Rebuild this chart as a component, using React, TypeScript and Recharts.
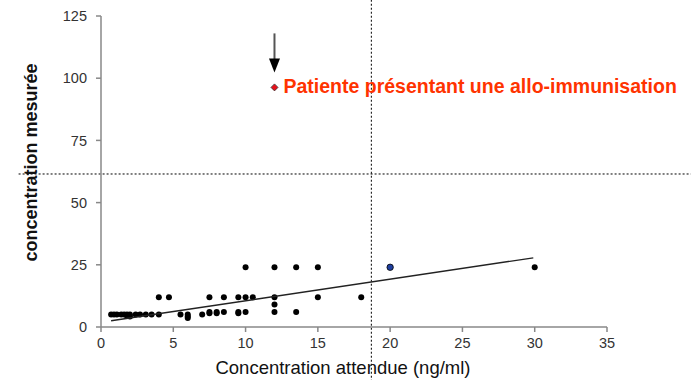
import { ScatterChart, Scatter, XAxis, YAxis, ReferenceLine } from 'recharts';

document.body.style.margin = '0';

// axis ticks
const xTicks = [0, 5, 10, 15, 20, 25, 30, 35];
const yTicks = [0, 25, 50, 75, 100, 125];

// expected (x) vs measured (y) concentrations
const measured = [
  { x: 0.7, y: 5 }, { x: 0.9, y: 5 }, { x: 1.1, y: 5 }, { x: 1.4, y: 5 },
  { x: 1.6, y: 5 }, { x: 1.8, y: 5 }, { x: 2, y: 5 }, { x: 2.4, y: 5 },
  { x: 2.7, y: 5 }, { x: 3.1, y: 5 }, { x: 3.5, y: 5 }, { x: 4, y: 5 },
  { x: 2, y: 4.2 }, { x: 1.8, y: 4.5 },
  { x: 4, y: 12 }, { x: 4.7, y: 12 },
  { x: 5.5, y: 5 }, { x: 6, y: 5 }, { x: 6, y: 4.2 }, { x: 6, y: 3.6 },
  { x: 7, y: 5 }, { x: 7.5, y: 5.5 }, { x: 7.5, y: 6 }, { x: 8, y: 5.5 },
  { x: 8, y: 6 }, { x: 8.5, y: 6 }, { x: 9.5, y: 5.5 }, { x: 9.5, y: 6 },
  { x: 10, y: 6 }, { x: 12, y: 6 }, { x: 13.5, y: 6 },
  { x: 7.5, y: 12 }, { x: 8.5, y: 12 }, { x: 9.5, y: 12 }, { x: 10, y: 12 },
  { x: 10.5, y: 12 }, { x: 12, y: 12 }, { x: 15, y: 12 }, { x: 18, y: 12 },
  { x: 12, y: 9 },
  { x: 10, y: 24 }, { x: 12, y: 24 }, { x: 13.5, y: 24 }, { x: 15, y: 24 },
  { x: 30, y: 24 },
];
const highlighted = [{ x: 20, y: 24 }];
const alloPatient = [{ x: 12, y: 96.3 }];
const trendLine = [
  { x: 0.7, y: 2.5 },
  { x: 29.9, y: 27.8 },
];

// threshold lines (drawn past the plot edges)
const xThreshold = 18.7;
const yThreshold = 61.5;

const FONT = '"Liberation Sans", Arial, sans-serif';

const Dot = (props: any) => <circle cx={props.cx} cy={props.cy} r={3} fill="#000" />;

const BlueDot = (props: any) => (
  <circle cx={props.cx} cy={props.cy} r={3.2} fill="#1f3f9f" stroke="#000" strokeWidth={0.8} />
);

const AlloPoint = (props: any) => {
  const { cx, cy } = props;
  return (
    <g>
      <line x1={cx} y1={cy - 54} x2={cx} y2={cy - 28} stroke="#555" strokeWidth={2} />
      <polygon points={`${cx - 5.5},${cy - 29} ${cx + 5.5},${cy - 29} ${cx},${cy - 15}`} fill="#000" />
      <polygon
        points={`${cx},${cy - 3.5} ${cx + 3.5},${cy} ${cx},${cy + 3.5} ${cx - 3.5},${cy}`}
        fill="#e8101a"
        stroke="#333"
        strokeWidth={0.8}
      />
      <text x={cx + 9} y={cy + 6} fill="#ff3300" fontSize={19.5} fontWeight="bold" fontFamily={FONT}>
        Patiente présentant une allo-immunisation
      </text>
    </g>
  );
};

const NoDot = () => <g />;

const XLabel = (props: any) => {
  const vb = props.viewBox;
  return (
    <text x={vb.x + vb.width / 2 - 11} y={vb.y + 47} textAnchor="middle" fontSize={18.5} fill="#111" fontFamily={FONT}>
      Concentration attendue (ng/ml)
    </text>
  );
};

const YLabel = (props: any) => {
  const vb = props.viewBox;
  const cx = 31;
  const cy = vb.y + vb.height / 2 - 9;
  return (
    <text
      x={cx}
      y={cy}
      transform={`rotate(-90, ${cx}, ${cy})`}
      textAnchor="middle"
      dominantBaseline="central"
      fontSize={18}
      fontWeight="bold"
      fill="#111"
      fontFamily={FONT}
    >
      concentration mesurée
    </text>
  );
};

export default function App() {
  const tick = { fill: '#333', fontSize: 14.5, fontFamily: FONT };
  return (
    <div style={{ width: 692, height: 380, background: '#fff' }}>
      <ScatterChart width={692} height={380} margin={{ top: 16, right: 85, bottom: 0, left: 0 }}>
        <XAxis
          type="number"
          dataKey="x"
          domain={[0, 35]}
          ticks={xTicks}
          tickSize={5}
          tickMargin={6}
          height={53}
          tick={tick}
          axisLine={{ stroke: '#888', strokeWidth: 1.5 }}
          tickLine={{ stroke: '#888', strokeWidth: 1.5 }}
          label={<XLabel />}
        />
        <YAxis
          type="number"
          dataKey="y"
          domain={[0, 125]}
          ticks={yTicks}
          tickSize={5}
          tickMargin={9}
          width={101}
          tick={tick}
          axisLine={{ stroke: '#888', strokeWidth: 1.5 }}
          tickLine={{ stroke: '#888', strokeWidth: 1.5 }}
          label={<YLabel />}
        />
        <ReferenceLine
          segment={[{ x: xThreshold, y: -22 }, { x: xThreshold, y: 132 }]}
          ifOverflow="visible"
          stroke="#000"
          strokeDasharray="2 2"
        />
        <ReferenceLine
          segment={[{ x: -5.7, y: yThreshold }, { x: 40.8, y: yThreshold }]}
          ifOverflow="visible"
          stroke="#000"
          strokeDasharray="2 2"
        />
        <Scatter data={measured} shape={<Dot />} isAnimationActive={false} />
        <Scatter
          data={trendLine}
          line={{ stroke: '#222', strokeWidth: 1.4 }}
          shape={<NoDot />}
          isAnimationActive={false}
        />
        <Scatter data={highlighted} shape={<BlueDot />} isAnimationActive={false} />
        <Scatter data={alloPatient} shape={<AlloPoint />} isAnimationActive={false} />
      </ScatterChart>
    </div>
  );
}
